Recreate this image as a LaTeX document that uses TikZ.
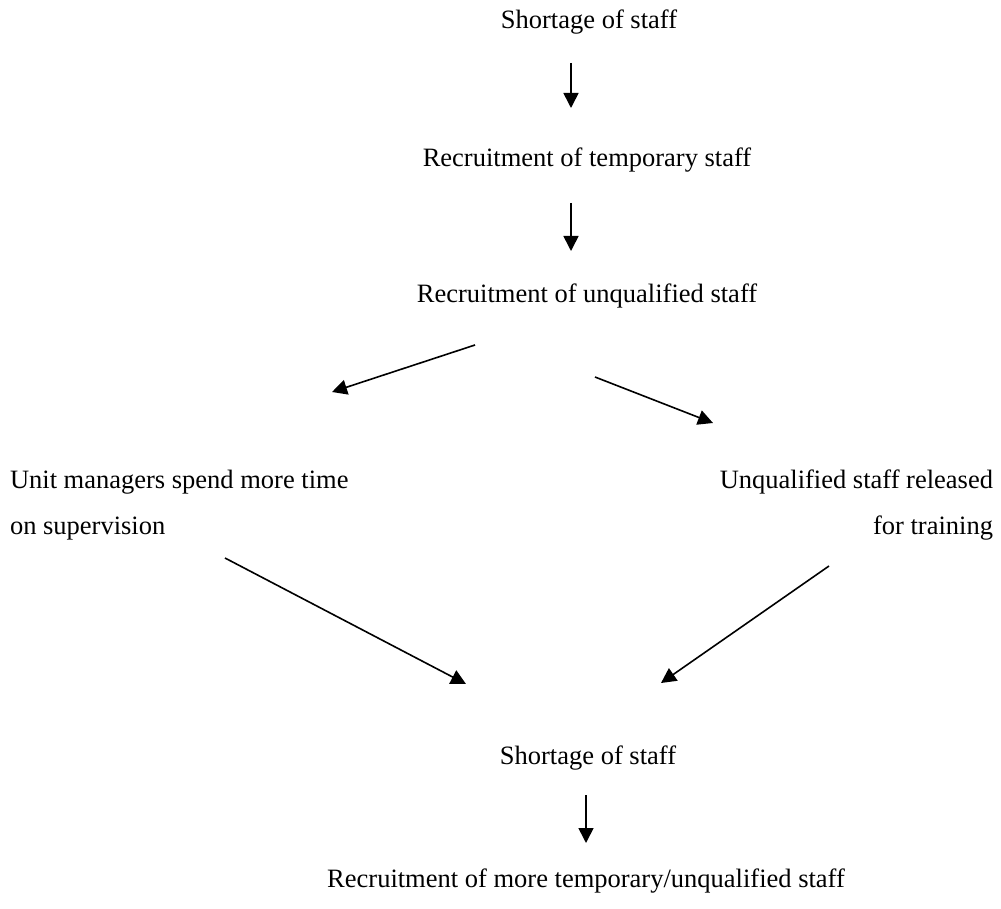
\documentclass[tikz,border=0pt]{standalone}
\usepackage{fontspec}
\setmainfont{Liberation Serif}
\usetikzlibrary{arrows.meta}
\tikzset{
  lbl/.style={inner sep=0pt, outer sep=0pt, font=\fontsize{26.5}{46}\selectfont},
  arr/.style={line width=1.6pt, -{Triangle[length=15pt,width=15pt]}}
}
\begin{document}
\begin{tikzpicture}[x=1pt,y=-1pt]
\useasboundingbox (0,0) rectangle (1001,909);
% texts
\node[lbl, anchor=base] (t1) at (589,29) {Shortage of staff};
\node[lbl, anchor=base] (t2) at (587,167) {Recruitment of temporary staff};
\node[lbl, anchor=base] (t3) at (587,302) {Recruitment of unqualified staff};
\node[lbl, anchor=base west, align=left] (tl) at (10,534) {Unit managers spend more time\\on supervision};
\node[lbl, anchor=base east, align=right] (tr) at (993,534) {Unqualified staff released\\for training};
\node[lbl, anchor=base] (t4) at (588,764) {Shortage of staff};
\node[lbl, anchor=base] (t5) at (586,887) {Recruitment of more temporary/unqualified staff};
% arrow end points
\coordinate (a1s) at (571,63);  \coordinate (a1e) at (571,108);
\coordinate (a2s) at (571,203); \coordinate (a2e) at (571,251);
\coordinate (a3s) at (475,345); \coordinate (a3e) at (332,392);
\coordinate (a4s) at (595,377); \coordinate (a4e) at (713,423);
\coordinate (a5s) at (225,558); \coordinate (a5e) at (466,684);
\coordinate (a6s) at (829,566); \coordinate (a6e) at (661,683);
\coordinate (a7s) at (586,795); \coordinate (a7e) at (586,843);
\draw[arr] (a1s) -- (a1e);
\draw[arr] (a2s) -- (a2e);
\draw[arr] (a3s) -- (a3e);
\draw[arr] (a4s) -- (a4e);
\draw[arr] (a5s) -- (a5e);
\draw[arr] (a6s) -- (a6e);
\draw[arr] (a7s) -- (a7e);
\end{tikzpicture}
\end{document}
